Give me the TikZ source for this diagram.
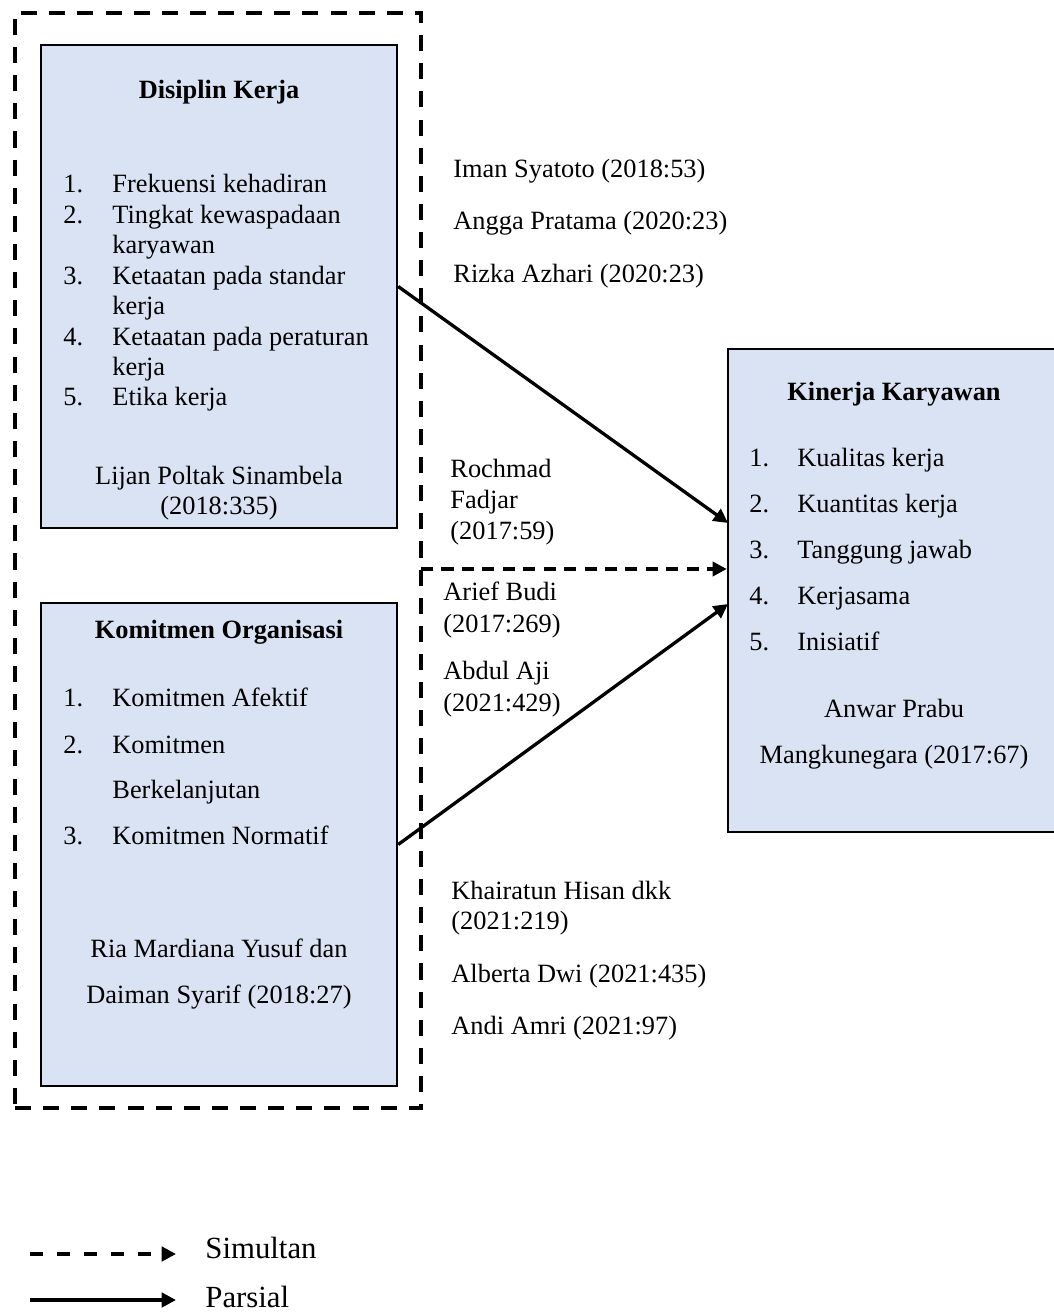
\documentclass[tikz,border=0pt]{standalone}
\usepackage{fontspec}
\setmainfont{Liberation Serif}
\usepackage{xcolor}
\usetikzlibrary{arrows.meta,positioning,fit}

\definecolor{boxblue}{RGB}{218,227,243}

\begin{document}
\begin{tikzpicture}[
    x=0.455pt, y=-0.455pt,
    font=\fontsize{12pt}{13.8pt}\selectfont,
    box/.style={draw, line width=1.1pt, fill=boxblue, inner sep=0pt},
    group/.style={draw, line width=1.8pt, dash pattern=on 7.3pt off 5.5pt, inner sep=0pt},
    txt/.style={inner sep=0pt, anchor=base west},
    ctr/.style={inner sep=0pt, anchor=base},
    head/.style={ctr, font=\fontsize{12pt}{13.8pt}\selectfont\bfseries},
    parsial/.style={-{Triangle[length=6.5pt,width=6.5pt]}, line width=1.5pt},
    simultan/.style={parsial, dash pattern=on 5.5pt off 3.8pt},
    simlegend/.style={parsial, line width=1.8pt, dash pattern=on 6pt off 6.3pt}
]
    \clip (0,0) rectangle (1054,1314);

    % Boxes
    \node[group, fit={(15,13) (421,1108)}] (grp) {};
    \node[box, fit={(41,45) (397,528)}] (dis) {};
    \node[box, fit={(41,603) (397,1086)}] (kom) {};
    \node[box, fit={(728,349) (1062,832)}] (kin) {};

    % Disiplin Kerja
    \node[head] (disH) at (219,98) {Disiplin Kerja};
    \node[txt] (dis1n) at (63,192) {1.};
    \node[txt] (dis1) at (112,192) {Frekuensi kehadiran};
    \node[txt] (dis2n) at (63,223) {2.};
    \node[txt] (dis2) at (112,223) {Tingkat kewaspadaan};
    \node[txt] (dis2b) at (112,253) {karyawan};
    \node[txt] (dis3n) at (63,284) {3.};
    \node[txt] (dis3) at (112,284) {Ketaatan pada standar};
    \node[txt] (dis3b) at (112,314) {kerja};
    \node[txt] (dis4n) at (63,345) {4.};
    \node[txt] (dis4) at (112,345) {Ketaatan pada peraturan};
    \node[txt] (dis4b) at (112,375) {kerja};
    \node[txt] (dis5n) at (63,405) {5.};
    \node[txt] (dis5) at (112,405) {Etika kerja};
    \node[ctr] (disS1) at (219,484) {Lijan Poltak Sinambela};
    \node[ctr] (disS2) at (219,514) {(2018:335)};

    % Komitmen Organisasi
    \node[head] (komH) at (219,638) {Komitmen Organisasi};
    \node[txt] (kom1n) at (63,706) {1.};
    \node[txt] (kom1) at (112,706) {Komitmen Afektif};
    \node[txt] (kom2n) at (63,753) {2.};
    \node[txt] (kom2) at (112,753) {Komitmen};
    \node[txt] (kom2b) at (112,798) {Berkelanjutan};
    \node[txt] (kom3n) at (63,844) {3.};
    \node[txt] (kom3) at (112,844) {Komitmen Normatif};
    \node[ctr] (komS1) at (219,957) {Ria Mardiana Yusuf dan};
    \node[ctr] (komS2) at (219,1003) {Daiman Syarif (2018:27)};

    % Kinerja Karyawan
    \node[head] (kinH) at (894,400) {Kinerja Karyawan};
    \node[txt] (kin1n) at (749,466) {1.};
    \node[txt] (kin1) at (797,466) {Kualitas kerja};
    \node[txt] (kin2n) at (749,512) {2.};
    \node[txt] (kin2) at (797,512) {Kuantitas kerja};
    \node[txt] (kin3n) at (749,558) {3.};
    \node[txt] (kin3) at (797,558) {Tanggung jawab};
    \node[txt] (kin4n) at (749,604) {4.};
    \node[txt] (kin4) at (797,604) {Kerjasama};
    \node[txt] (kin5n) at (749,650) {5.};
    \node[txt] (kin5) at (797,650) {Inisiatif};
    \node[ctr] (kinS1) at (894,717) {Anwar Prabu};
    \node[ctr] (kinS2) at (894,763) {Mangkunegara (2017:67)};

    % Sources
    \node[txt] (src1) at (453,177) {Iman Syatoto (2018:53)};
    \node[txt] (src2) at (453,229) {Angga Pratama (2020:23)};
    \node[txt] (src3) at (453,282) {Rizka Azhari (2020:23)};
    \node[txt] (src4) at (450,477) {Rochmad};
    \node[txt] (src4b) at (450,508) {Fadjar};
    \node[txt] (src4c) at (450,539) {(2017:59)};
    \node[txt] (src5) at (443,600) {Arief Budi};
    \node[txt] (src5b) at (443,632) {(2017:269)};
    \node[txt] (src6) at (443,679) {Abdul Aji};
    \node[txt] (src6b) at (443,711) {(2021:429)};
    \node[txt] (src7) at (451,899) {Khairatun Hisan dkk};
    \node[txt] (src7b) at (451,929) {(2021:219)};
    \node[txt] (src8) at (451,982) {Alberta Dwi (2021:435)};
    \node[txt] (src9) at (451,1034) {Andi Amri (2021:97)};

    % Arrows
    \coordinate (p1) at (728,523);
    \coordinate (p2) at (728,604);
    \coordinate (s1) at (421,569);
    \draw[parsial] (dis.east) -- (p1);
    \draw[parsial] (kom.east) -- (p2);
    \draw[simultan] (s1) -- (s1 -| kin.west);

    % Legend
    \node[txt] (legS) at (205,1258) {\fontsize{14pt}{16pt}\selectfont Simultan};
    \node[txt] (legP) at (205,1307) {\fontsize{14pt}{16pt}\selectfont Parsial};
    \coordinate (lS) at (30,1254);
    \coordinate (lP) at (30,1300);
    \draw[simlegend] (lS) -- (lS -| 176,0);
    \draw[parsial, line width=1.8pt] (lP) -- (lP -| 176,0);
\end{tikzpicture}
\end{document}
